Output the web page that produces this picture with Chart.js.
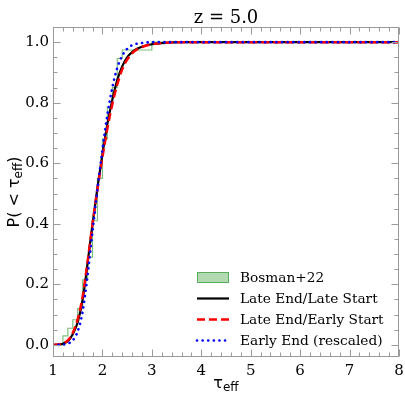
<!DOCTYPE html>
<html>
<head>
<meta charset="utf-8">
<script src="https://cdn.jsdelivr.net/npm/chart.js@4"></script>
<style>
  html, body { margin: 0; padding: 0; background: #fff; }
</style>
</head>
<body>
<canvas id="cdf" width="405" height="396"></canvas>
<script>
// tau_eff grid shared by the three model CDFs
const tauGrid = [1.0, 1.1, 1.2, 1.3, 1.4, 1.5, 1.6, 1.7, 1.8, 1.9, 2.0, 2.1, 2.2, 2.3, 2.4,
                 2.5, 2.6, 2.7, 2.8, 3.0, 3.3, 3.6, 4.0, 5.0, 6.0, 7.0, 8.0];
const lateEndLateStart = [0, 0.001, 0.004, 0.012, 0.035, 0.075, 0.15, 0.27, 0.40, 0.52, 0.63,
                          0.73, 0.81, 0.875, 0.92, 0.95, 0.967, 0.978, 0.985, 0.993, 0.998,
                          1, 1, 1, 1, 1, 1];
const lateEndEarlyStart = [0, 0.001, 0.005, 0.015, 0.04, 0.085, 0.16, 0.275, 0.40, 0.515, 0.62,
                           0.715, 0.795, 0.86, 0.91, 0.942, 0.963, 0.976, 0.984, 0.993, 0.998,
                           1, 1, 1, 1, 1, 1];
const earlyEndRescaled = [0, 0, 0.001, 0.004, 0.015, 0.045, 0.11, 0.23, 0.375, 0.515, 0.645,
                          0.76, 0.85, 0.915, 0.955, 0.978, 0.99, 0.995, 0.997, 1, 1,
                          1, 1, 1, 1, 1, 1];

// observed cumulative histogram: bin left edges and cumulative fraction
const bosmanEdges = [1.0, 1.1, 1.2, 1.3, 1.4, 1.5, 1.6, 1.7, 1.8, 1.9, 2.0, 2.1, 2.2, 2.3,
                     2.4, 2.5, 2.6, 2.7, 2.8, 2.9, 3.0, 8.0];
const bosmanCdf = [0, 0, 0.03, 0.055, 0.083, 0.12, 0.215, 0.29, 0.41, 0.55, 0.68, 0.785,
                   0.85, 0.946, 0.974, 0.974, 0.974, 0.974, 0.974, 0.974, 1.0, 1.0];

const xTicks = [1, 2, 3, 4, 5, 6, 7, 8];
const yTicks = [0, 0.2, 0.4, 0.6, 0.8, 1.0];

const serif = '"DejaVu Serif", serif';
const sans = '"DejaVu Sans", sans-serif';
const frameGrey = '#9a9a9a';

const pts = (xs, ys) => xs.map((v, i) => ({ x: v, y: ys[i] }));

const datasets = [
  {
    label: 'Bosman+22',
    data: pts(bosmanEdges, bosmanCdf),
    stepped: 'before',
    borderColor: 'rgba(0,128,0,0.5)',
    backgroundColor: 'rgba(0,128,0,0.3)',
    borderWidth: 1.2,
    fill: false,
    order: 3
  },
  {
    label: 'Late End/Late Start',
    data: pts(tauGrid, lateEndLateStart),
    borderColor: '#000',
    borderWidth: 2.2,
    cubicInterpolationMode: 'monotone',
    order: 2
  },
  {
    label: 'Late End/Early Start',
    data: pts(tauGrid, lateEndEarlyStart),
    borderColor: '#ff0000',
    borderWidth: 2.5,
    borderDash: [8, 4],
    cubicInterpolationMode: 'monotone',
    order: 1
  },
  {
    label: 'Early End (rescaled)',
    data: pts(tauGrid, earlyEndRescaled),
    borderColor: '#0000ff',
    borderWidth: 2.6,
    borderDash: [0.1, 5.5],
    borderCapStyle: 'round',
    cubicInterpolationMode: 'monotone',
    order: 0
  }
];

// spine box, inward major/minor ticks on all four sides
const frameTicks = {
  id: 'frameTicks',
  afterDatasetsDraw(chart) {
    const { ctx, chartArea: a, scales: { x, y } } = chart;
    const L = Math.round(a.left) + 0.5, R = Math.round(a.right) - 0.5;
    const T = Math.round(a.top) + 0.5, B = Math.round(a.bottom) - 0.5;
    ctx.save();
    ctx.strokeStyle = frameGrey;
    ctx.lineWidth = 1;
    ctx.beginPath();
    for (let i = 0; i <= 35; i++) {
      const v = 1 + i * 0.2;
      const px = Math.round(x.getPixelForValue(v)) + 0.5;
      const len = i % 5 === 0 ? 7 : 4;
      ctx.moveTo(px, B); ctx.lineTo(px, B - len);
      ctx.moveTo(px, T); ctx.lineTo(px, T + len);
    }
    for (let i = 0; i <= 20; i++) {
      const v = i * 0.05;
      const py = Math.round(y.getPixelForValue(v)) + 0.5;
      const len = i % 4 === 0 ? 7 : 4;
      ctx.moveTo(L, py); ctx.lineTo(L + len, py);
      ctx.moveTo(R, py); ctx.lineTo(R - len, py);
    }
    ctx.stroke();
    ctx.strokeRect(L, T, R - L, B - T);
    ctx.restore();
  }
};

// title, axis labels with subscripts, and legend box
const annotations = {
  id: 'annotations',
  afterDraw(chart) {
    const { ctx, chartArea: a } = chart;
    ctx.save();
    ctx.fillStyle = '#000';
    ctx.textBaseline = 'alphabetic';

    ctx.font = '18px ' + serif;
    ctx.textAlign = 'center';
    ctx.fillText('z = 5.0', (a.left + a.right) / 2, 23);

    const runs = (parts, cx, cy) => {
      let w = 0;
      parts.forEach(p => { ctx.font = p[1]; w += ctx.measureText(p[0]).width; });
      let px = cx - w / 2;
      ctx.textAlign = 'left';
      parts.forEach(p => {
        ctx.font = p[1];
        ctx.fillText(p[0], px, cy + p[2]);
        px += ctx.measureText(p[0]).width;
      });
    };

    runs([['τ', '16px ' + sans, 0], ['eff', '12px ' + sans, 3]], (a.left + a.right) / 2, 388);

    ctx.save();
    ctx.translate(19, (a.top + a.bottom) / 2);
    ctx.rotate(-Math.PI / 2);
    runs([['P(', '16px ' + sans, 0], [' < ', '16px ' + sans, 0], ['τ', '16px ' + sans, 0],
          ['eff', '12px ' + sans, 3], [')', '16px ' + sans, 0]], 0, 0);
    ctx.restore();

    // legend in the lower right of the axes
    const x0 = 197, x1 = 229, tx = 240, rowY = [277, 298, 319, 340];
    ctx.font = '13.7px ' + serif;
    ctx.textBaseline = 'middle';
    ctx.textAlign = 'left';
    datasets.forEach((d, i) => {
      const yy = rowY[i];
      ctx.save();
      if (i === 0) {
        ctx.fillStyle = d.backgroundColor;
        ctx.fillRect(x0, yy - 5, x1 - x0, 11);
        ctx.strokeStyle = d.borderColor;
        ctx.lineWidth = 1;
        ctx.strokeRect(x0 + 0.5, yy - 4.5, x1 - x0 - 1, 10);
      } else {
        ctx.strokeStyle = d.borderColor;
        ctx.lineWidth = d.borderWidth;
        ctx.setLineDash(d.borderDash || []);
        ctx.lineCap = d.borderCapStyle || 'butt';
        ctx.beginPath();
        ctx.moveTo(x0, yy + 0.5);
        ctx.lineTo(x1, yy + 0.5);
        ctx.stroke();
      }
      ctx.restore();
      ctx.fillStyle = '#000';
      ctx.fillText(d.label, tx, yy + 1);
    });
    ctx.restore();
  }
};

new Chart(document.getElementById('cdf'), {
  type: 'line',
  data: { datasets },
  options: {
    responsive: false,
    animation: false,
    layout: { padding: { top: 27, right: 6, left: 0, bottom: 0 } },
    elements: { point: { radius: 0 }, line: { tension: 0 } },
    plugins: {
      legend: { display: false },
      tooltip: { enabled: false },
      title: { display: false }
    },
    scales: {
      x: {
        type: 'linear',
        min: 1,
        max: 8,
        grid: { display: false, drawTicks: false },
        border: { display: false },
        afterBuildTicks: s => { s.ticks = xTicks.map(v => ({ value: v })); },
        afterFit: s => { s.height = 39; s.paddingRight = 0; s.paddingLeft = 0; },
        ticks: {
          padding: 5,
          color: '#000',
          font: { family: serif, size: 15 },
          maxRotation: 0,
          callback: v => String(v)
        }
      },
      y: {
        type: 'linear',
        min: -0.04,
        max: 1.05,
        grid: { display: false, drawTicks: false },
        border: { display: false },
        afterBuildTicks: s => { s.ticks = yTicks.map(v => ({ value: v })); },
        afterFit: s => { s.width = 53; s.paddingTop = 0; s.paddingBottom = 0; },
        ticks: {
          padding: 4,
          color: '#000',
          font: { family: serif, size: 15 },
          callback: v => v.toFixed(1)
        }
      }
    }
  },
  plugins: [frameTicks, annotations]
});
</script>
</body>
</html>
